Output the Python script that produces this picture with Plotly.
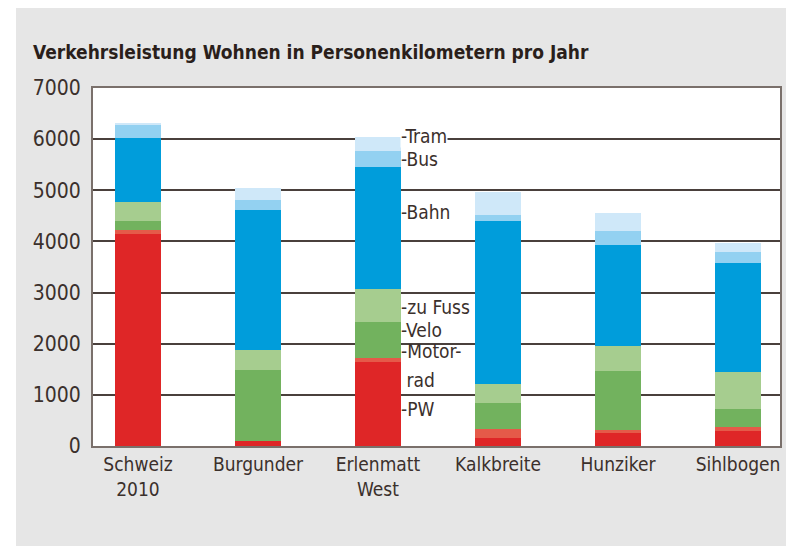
import plotly.graph_objects as go

# data (Personenkilometer pro Jahr)
siedlungen = ['Schweiz<br>2010', 'Burgunder', 'Erlenmatt<br>West', 'Kalkbreite', 'Hunziker', 'Sihlbogen']
pw = [4140, 98, 1650, 150, 260, 293]
motorrad = [84, 0, 66, 182, 53, 84]
velo = [176, 1388, 716, 503, 1160, 340]
zu_fuss = [377, 391, 633, 377, 482, 736]
bahn = [1240, 2738, 2398, 3188, 1975, 2119]
bus = [253, 195, 313, 117, 280, 228]
tram = [52, 229, 261, 456, 352, 163]

serien = [('PW', pw, '#df2627'),
          ('Motorrad', motorrad, '#e55a49'),
          ('Velo', velo, '#72b25e'),
          ('zu Fuss', zu_fuss, '#a6cd8f'),
          ('Bahn', bahn, '#009ddb'),
          ('Bus', bus, '#93d1f1'),
          ('Tram', tram, '#cfe8f9')]

font_fam = 'Liberation Sans Narrow, DejaVu Sans Condensed, Arial Narrow, sans-serif'
txt_col = '#3b302c'

fig = go.Figure()
for name, vals, col in serien:
    fig.add_trace(go.Bar(x=siedlungen, y=vals, name=name,
                         marker=dict(color=col, line=dict(width=0))))

# Beschriftung an der Erlenmatt-Säule
labels = [('-Tram', 6060, True), ('-Bus', 5620, False), ('-Bahn', 4566, False),
          ('-zu Fuss', 2710, False), ('-Velo', 2260, False), ('-Motor-', 1860, False),
          (' rad', 1290, False), ('-PW', 714, False)]
for t, yv, bg in labels:
    fig.add_annotation(x=siedlungen[2], y=yv, text=t, showarrow=False,
                       xanchor='left', yanchor='middle', xshift=22,
                       font=dict(family=font_fam, size=19, color=txt_col),
                       bgcolor='white' if bg else None, borderpad=0)

# grauer Hintergrund und weisse Plotfläche
fig.add_shape(type='rect', xref='paper', yref='paper', x0=-0.1121, x1=1.03,
              y0=-0.29, y1=1.235, fillcolor='#e6e6e6', line_width=0, layer='below')
fig.add_shape(type='rect', xref='paper', yref='paper', x0=0, x1=1, y0=0, y1=1,
              fillcolor='white', line_width=0, layer='below')

fig.update_layout(
    barmode='stack', bargap=0.61,
    width=786, height=538,
    margin=dict(l=85, r=14, t=80, b=100),
    paper_bgcolor='white', plot_bgcolor='rgba(0,0,0,0)',
    showlegend=False,
    font=dict(family=font_fam, size=19, color=txt_col),
    title=dict(text='<b>Verkehrsleistung Wohnen in Personenkilometern pro Jahr</b>',
               x=25/786, xanchor='left', y=1-44/538, yanchor='middle',
               font=dict(family=font_fam, size=19, color='#2a1f1b')),
)
fig.update_xaxes(range=[-0.375, 5.35], showline=True, linecolor='#7a706b', linewidth=2,
                 mirror=True, ticks='', tickfont=dict(size=19))
fig.update_yaxes(range=[0, 7000], dtick=1000, showline=True, linecolor='#7a706b',
                 linewidth=2, mirror=True, gridcolor='#4a403c', gridwidth=1.5,
                 zeroline=False, ticks='', ticklabelstandoff=6, tickfont=dict(size=21))

fig.write_html("out.html")
